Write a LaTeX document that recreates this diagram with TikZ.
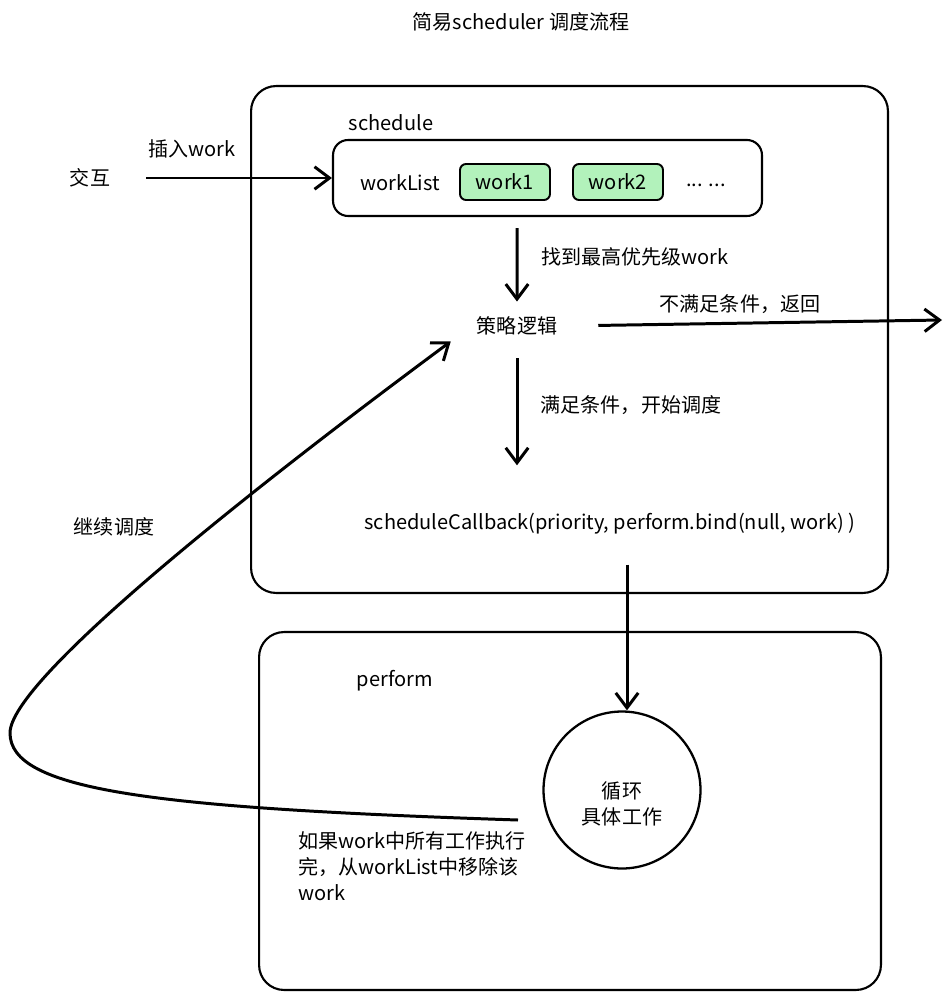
\documentclass[tikz,border=0pt]{standalone}
\usepackage{fontspec}
\setmainfont{Noto Sans CJK SC}
\usepackage{tikz}
\usepackage{xcolor}
\usetikzlibrary{arrows.meta,positioning}
\definecolor{WorkGreen}{HTML}{B2F2BB}

\begin{document}
\begin{tikzpicture}[x=0.02cm,y=-0.02cm,
    every node/.style={font=\fontsize{11.4}{15}\selectfont},
    arr/.style={line width=1.7pt,-{Straight Barb[length=3mm,width=4.5mm]}},
    frame/.style={draw,line width=1.2pt,rounded corners=0.5cm,inner sep=0pt}]
                \useasboundingbox (0,0) rectangle (950,1000);
                \node (title) at (521,22) {简易scheduler 调度流程};

                \node[frame,minimum width=12.74cm,minimum height=10.14cm] (sched) at (569.5,339.5) {};
                \node[frame,minimum width=12.44cm,minimum height=7.16cm] (perf) at (570,811) {};
                \node (schedlabel) at (391,123) {schedule};
                \node (perflabel) at (395,681) {perform};

                \node[frame,rounded corners=0.3cm,minimum width=8.58cm,minimum height=1.52cm] (list) at (547.5,178) {};
                \node (listname) at (400,183) {workList};
                \node[draw,fill=WorkGreen,line width=1.1pt,rounded corners=0.12cm,minimum width=1.8cm,minimum height=0.72cm] (w1) at (505,182) {work1};
                \node[draw,fill=WorkGreen,line width=1.1pt,rounded corners=0.12cm,minimum width=1.8cm,minimum height=0.72cm] (w2) at (618,182) {work2};
                \node (dots) at (706,185) {... ...};

                \node (jiaohu) at (90,178) {交互};
                \node (logic) at (517,326) {策略逻辑};
                \node (cb) at (610,524) {scheduleCallback(priority, perform.bind(null, work) )};
                \node[draw,circle,line width=1.3pt,minimum size=3.14cm] (loop) at (622,790) {};
                \node[align=center] (looptext) at (622,804) {循环\\具体工作};
                \coordinate (out) at (942,320);
                \coordinate (back) at (518,820);

                \draw[arr,shorten <=0.6cm] (jiaohu.east) -- (list.west);
                \draw[arr,shorten <=0.22cm,shorten >=0.18cm] ([xshift=-0.61cm]list.south) -- (logic.north);
                \draw[arr,shorten <=0.7cm] (logic.east) -- (out);
                \draw[arr,shorten <=0.34cm,shorten >=0.84cm] (logic.south) -- (logic.south |- cb.north);
                \draw[arr,shorten <=0.48cm] ([xshift=0.1cm]loop.north |- cb.south) -- ([xshift=0.1cm]loop.north);
                \draw[arr] (back) .. controls (150,808) and (10,790) .. (10,733) .. controls (10,680) and (250,490) .. ([xshift=-0.4cm]logic.south west);

                \node (insert) at (192,149) {插入work};
                \node (find) at (635,257) {找到最高优先级work};
                \node (fail) at (740,304) {不满足条件，返回};
                \node (ok) at (631,405) {满足条件，开始调度};
                \node (again) at (114,527) {继续调度};
                \node[align=left,anchor=north west,inner sep=0pt] (done) at (298,831) {如果work中所有工作执行\\完，从workList中移除该\\work};
            \end{tikzpicture}
\end{document}
